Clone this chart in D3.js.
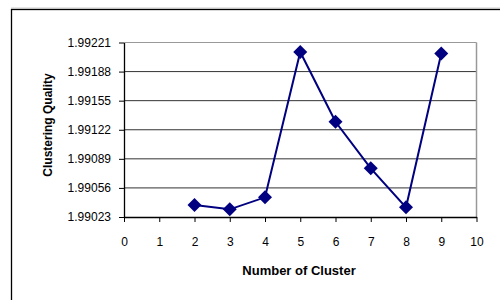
<!DOCTYPE html>
<html>
<head>
<meta charset="utf-8">
<script src="https://cdn.jsdelivr.net/npm/d3@7"></script>
<style>
  body { margin: 0; background: #fff; }
  svg { display: block; font-family: "Liberation Sans", Arial, sans-serif; }
</style>
</head>
<body>
<svg width="500" height="300"></svg>
<script>
// Anzahl Cluster und Qualitaet
var clusters = [2, 3, 4, 5, 6, 7, 8, 9]
var quality = [1.990366, 1.990317, 1.990453, 1.992103, 1.99131, 1.990782, 1.99034, 1.992085]

var xTicks = [0, 1, 2, 3, 4, 5, 6, 7, 8, 9, 10]
var yTicks = ["1.99023", "1.99056", "1.99089", "1.99122", "1.99155", "1.99188", "1.99221"]

var svg = d3.select("svg")

var scX = d3.scaleLinear().domain([0, 10]).range([124, 476.5]),
    scY = d3.scaleLinear().domain([+yTicks[0], +yTicks[yTicks.length - 1]]).range([217, 42.5])

// Rahmen aussen
svg.append("line").attr("x1", 11).attr("x2", 500).attr("y1", 8).attr("y2", 8)
    .attr("stroke", "#ccc")
svg.append("rect").attr("x", 11.5).attr("y", 9.5).attr("width", 520).attr("height", 320)
    .attr("fill", "none").attr("stroke", "#000").attr("stroke-width", 1.3)

// Gitterlinien
svg.selectAll("line.grid").data(yTicks.slice(1)).enter().append("line")
    .attr("class", "grid")
    .attr("x1", scX(0)).attr("x2", scX(10))
    .attr("y1", d => scY(+d)).attr("y2", d => scY(+d))
    .attr("stroke", (d, i) => i == yTicks.length - 2 ? "#999" : "#333")
    .attr("stroke-width", 1)

// rechter Rand grau
svg.append("line").attr("x1", scX(10)).attr("x2", scX(10))
    .attr("y1", scY(+yTicks[yTicks.length - 1])).attr("y2", scY(+yTicks[0]))
    .attr("stroke", "#999").attr("stroke-width", 1.5)

// Achsen
var yAxis = d3.axisLeft(scY).tickValues(yTicks.map(Number)).tickFormat((d, i) => yTicks[i])
    .tickSize(5).tickSizeOuter(0).tickPadding(8)
svg.append("g").attr("transform", "translate(" + scX(0) + ",0)").call(yAxis)

var xAxis = d3.axisBottom(scX).tickValues(xTicks).tickFormat(d => d)
    .tickSize(5).tickSizeOuter(0).tickPadding(15)
svg.append("g").attr("transform", "translate(0," + scY(+yTicks[0]) + ")").call(xAxis)

svg.selectAll(".domain").attr("stroke", "#000").attr("stroke-width", 1.3)
svg.selectAll(".tick line").attr("stroke", "#000")
svg.selectAll(".tick text").attr("font-size", 12).attr("fill", "#000")
    .attr("font-family", "'Liberation Sans', Arial, sans-serif")

// Linie und Rauten
var line = d3.line().x((d, i) => scX(clusters[i])).y(d => scY(d))
svg.append("path").datum(quality).attr("d", line)
    .attr("fill", "none").attr("stroke", "#000080").attr("stroke-width", 2)

var sym = d3.symbol().type(d3.symbolSquare).size(98)
svg.selectAll("path.pt").data(quality).enter().append("path")
    .attr("class", "pt").attr("d", sym)
    .attr("transform", (d, i) => "translate(" + scX(clusters[i]) + "," + scY(d) + ") rotate(45)")
    .attr("fill", "#000080")

// Beschriftung
svg.append("text").attr("x", 299).attr("y", 275).attr("text-anchor", "middle")
    .attr("font-size", 13).attr("font-weight", "bold").text("Number of Cluster")
svg.append("text").attr("transform", "translate(52,125) rotate(-90)").attr("text-anchor", "middle")
    .attr("font-size", 12).attr("font-weight", "bold").text("Clustering Quality")
</script>
</body>
</html>
